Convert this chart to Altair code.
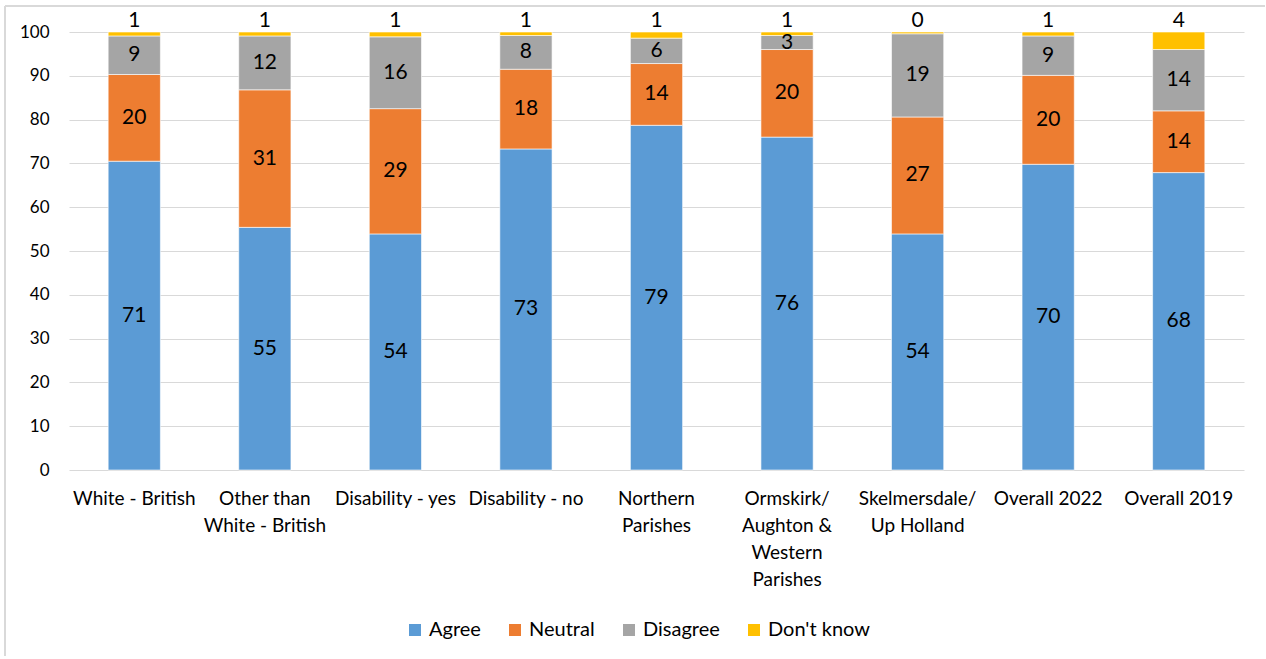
import altair as alt
import pandas as pd

# Survey responses by group (percent of respondents)
groups = [
    "White - British",
    "Other than White - British",
    "Disability - yes",
    "Disability - no",
    "Northern Parishes",
    "Ormskirk/ Aughton & Western Parishes",
    "Skelmersdale/ Up Holland",
    "Overall 2022",
    "Overall 2019",
]
group_lines = [
    ["White - British"],
    ["Other than", "White - British"],
    ["Disability - yes"],
    ["Disability - no"],
    ["Northern", "Parishes"],
    ["Ormskirk/", "Aughton &", "Western", "Parishes"],
    ["Skelmersdale/", "Up Holland"],
    ["Overall 2022"],
    ["Overall 2019"],
]
responses = ["Agree", "Neutral", "Disagree", "Don't know"]
colors = ["#5B9BD5", "#ED7D31", "#A5A5A5", "#FFC000"]

agree = [70.5, 55.4, 53.9, 73.3, 78.7, 76.0, 53.9, 69.8, 67.9]
neutral = [19.8, 31.4, 28.6, 18.2, 14.1, 20.0, 26.7, 20.3, 14.1]
disagree = [8.8, 12.3, 16.4, 7.7, 5.8, 3.2, 19.0, 9.0, 14.0]
dont_know = [0.9, 0.9, 1.1, 0.8, 1.4, 0.8, 0.4, 0.9, 4.0]

series = [agree, neutral, disagree, dont_know]

rows = []
for gi, g in enumerate(groups):
    base = 0.0
    for ri, r in enumerate(responses):
        v = series[ri][gi]
        rows.append({
            "group": g,
            "response": r,
            "order": ri,
            "value": v,
            "y0": base,
            "y1": base + v,
            "mid": base + v / 2,
        })
        base += v
df = pd.DataFrame(rows)

W, H = 1175, 438
FONT = "Lato"

label_expr = " : ".join(
    f"datum.value == {g!r} ? {lines!r}" for g, lines in zip(groups, group_lines)
) + " : datum.value"

x_enc = alt.X(
    "group:N",
    sort=groups,
    scale=alt.Scale(paddingInner=0.6, paddingOuter=0.3),
    axis=alt.Axis(
        title=None,
        labelAngle=0,
        domain=False,
        ticks=False,
        labelPadding=19,
        labelFontSize=19,
        labelLineHeight=27,
        labelColor="#000000",
        labelFont=FONT,
        labelExpr=label_expr,
        labelLimit=300,
    ),
)

y_scale = alt.Scale(domain=[0, 100], nice=False)

bars = alt.Chart(df).mark_bar(stroke="white", strokeWidth=0.6).encode(
    x=x_enc,
    y=alt.Y(
        "y0:Q",
        scale=y_scale,
        axis=alt.Axis(
            title=None,
            values=list(range(0, 101, 10)),
            domain=False,
            ticks=False,
            gridColor="#D9D9D9",
            gridWidth=1.2,
            labelPadding=20,
            labelFontSize=17,
            labelColor="#000000",
            labelFont=FONT,
        ),
    ),
    y2="y1:Q",
    color=alt.Color(
        "response:N",
        scale=alt.Scale(domain=responses, range=colors),
        legend=alt.Legend(
            title=None,
            orient="none",
            legendX=336,
            legendY=588,
            direction="horizontal",
            symbolType="square",
            symbolSize=144,
            symbolStrokeWidth=0,
            labelFontSize=20,
            labelFont=FONT,
            labelColor="#000000",
            labelOffset=4,
            columnPadding=24,
        ),
    ),
    order="order:Q",
)

inner_labels = alt.Chart(df).transform_filter(
    "datum.response != \"Don't know\""
).mark_text(fontSize=21, font=FONT, color="#000000", baseline="middle").encode(
    x=alt.X("group:N", sort=groups),
    y=alt.Y("mid:Q", scale=y_scale),
    text=alt.Text("value:Q", format=".0f"),
)

top_labels = alt.Chart(df).transform_filter(
    "datum.response == \"Don't know\""
).mark_text(fontSize=21, font=FONT, color="#000000", baseline="middle", dy=-11).encode(
    x=alt.X("group:N", sort=groups),
    y=alt.Y("y1:Q", scale=y_scale),
    text=alt.Text("value:Q", format=".0f"),
)

# light frame around the chart (left and top edges)
frame_left = alt.Chart(df).mark_rule(color="#D9D9D9", strokeWidth=1.5).encode(
    x=alt.value(-64), y=alt.value(-26), y2=alt.value(H + 186)
)
frame_top = alt.Chart(df).mark_rule(color="#D9D9D9", strokeWidth=1.5).encode(
    x=alt.value(-64), x2=alt.value(W + 21), y=alt.value(-26)
)

chart = alt.layer(frame_left, frame_top, bars, inner_labels, top_labels).properties(
    width=W,
    height=H,
    padding={"left": 4, "top": 5, "right": 0, "bottom": 0},
    background="white",
).configure_view(stroke=None)

chart.save("out.html", embed_options={"renderer": "svg", "actions": False})
